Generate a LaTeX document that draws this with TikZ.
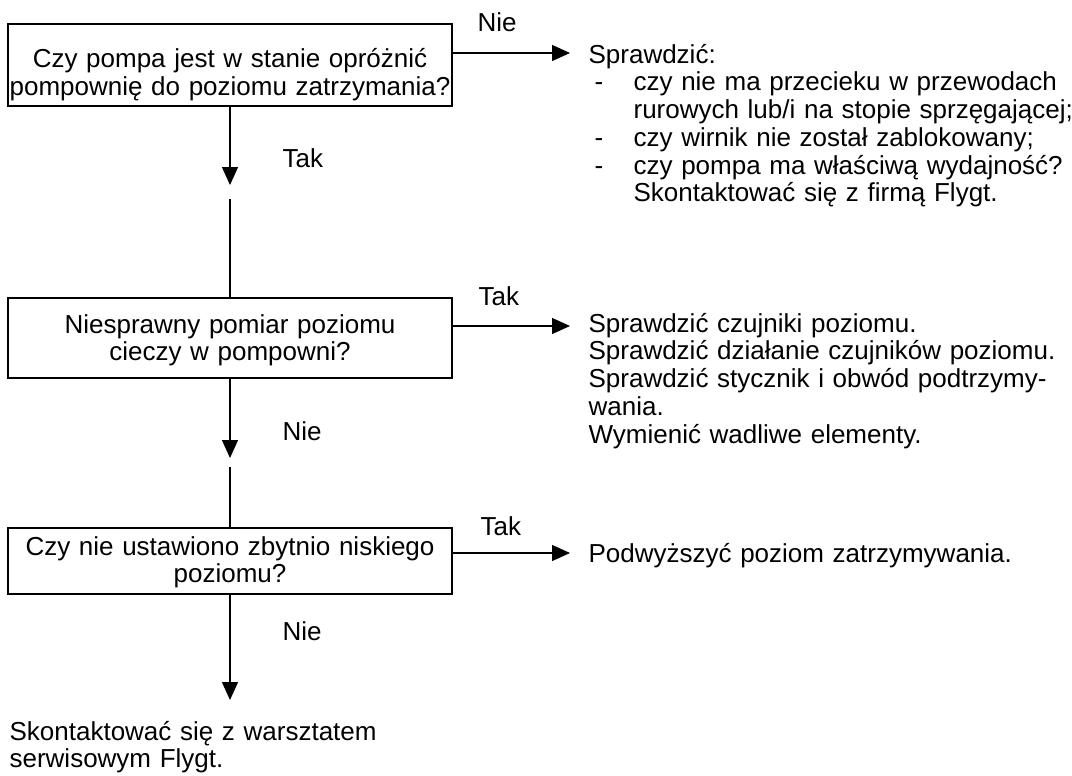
\documentclass[tikz,border=0pt]{standalone}
\usepackage{fontspec}
\setmainfont{Liberation Sans}
\usetikzlibrary{arrows.meta, positioning}

\tikzset{
  box/.style={draw, align=center, text width=222pt, inner sep=0pt,
              font=\fontsize{13}{13.5}\selectfont},
  arr/.style={-{Triangle[length=9pt, width=8pt]}},
  lbl/.style={anchor=base west, inner sep=0pt},
  note/.style={anchor=base west, align=left, text width=250pt, inner sep=0pt},
}

\begin{document}
\begin{tikzpicture}[x=0.5pt, y=-0.5pt, line width=0.6pt,
  every node/.style={font=\fontsize{13}{13.9}\selectfont}]

  \useasboundingbox (0, 0) rectangle (1072, 776);

  % questions
  \node[box, text height=22pt, text depth=19pt] (q1) at (230, 65)
    {Czy pompa jest w stanie opróżnić\\pompownię do poziomu zatrzymania?};
  \node[box, text height=17.5pt, text depth=22.5pt] (q2) at (230, 338)
    {Niesprawny pomiar poziomu\\cieczy w pompowni?};
  \node[box, text height=13.5pt, text depth=19.5pt] (q3) at (230, 561)
    {Czy nie ustawiono zbytnio niskiego\\poziomu?};

  % answers
  \node[note] (a1) at (588, 63)
    {Sprawdzić:\\
     \hspace*{3pt}\makebox[19.5pt][l]{-}czy nie ma przecieku w przewodach\\
     \hspace*{22.5pt}rurowych lub/i na stopie sprzęgającej;\\
     \hspace*{3pt}\makebox[19.5pt][l]{-}czy wirnik nie został zablokowany;\\
     \hspace*{3pt}\makebox[19.5pt][l]{-}czy pompa ma właściwą wydajność?\\
     \hspace*{22.5pt}Skontaktować się z firmą Flygt.};
  \node[note] (a2) at (588, 332)
    {Sprawdzić czujniki poziomu.\\
     Sprawdzić działanie czujników poziomu.\\
     Sprawdzić stycznik i obwód podtrzymy-\\
     wania.\\
     Wymienić wadliwe elementy.};
  \node[note] (a3) at (588, 562) {Podwyższyć poziom zatrzymywania.};
  \node[note] (a4) at (9, 740) {Skontaktować się z warsztatem\\serwisowym Flygt.};

  % arrow ends
  \coordinate (e1) at (570, 53);
  \coordinate (e2) at (570, 326);
  \coordinate (e3) at (570, 553);
  \coordinate (t1) at (230, 185);
  \coordinate (s1) at (230, 199);
  \coordinate (t2) at (230, 458);
  \coordinate (s2) at (230, 467);
  \coordinate (t3) at (230, 700);

  \draw[arr] (q1.east |- e1) -- (e1);
  \draw[arr] (q2.east |- e2) -- (e2);
  \draw[arr] (q3.east |- e3) -- (e3);

  \draw[arr] (q1) -- (t1);
  \draw (s1) -- (q2);
  \draw[arr] (q2) -- (t2);
  \draw (s2) -- (q3);
  \draw[arr] (q3) -- (t3);

  % labels
  \node[lbl] (l1) at (477, 32) {Nie};
  \node[lbl] (l2) at (282, 167) {Tak};
  \node[lbl] (l3) at (478, 305) {Tak};
  \node[lbl] (l4) at (282, 440) {Nie};
  \node[lbl] (l5) at (480, 535) {Tak};
  \node[lbl] (l6) at (282, 640) {Nie};

\end{tikzpicture}
\end{document}
